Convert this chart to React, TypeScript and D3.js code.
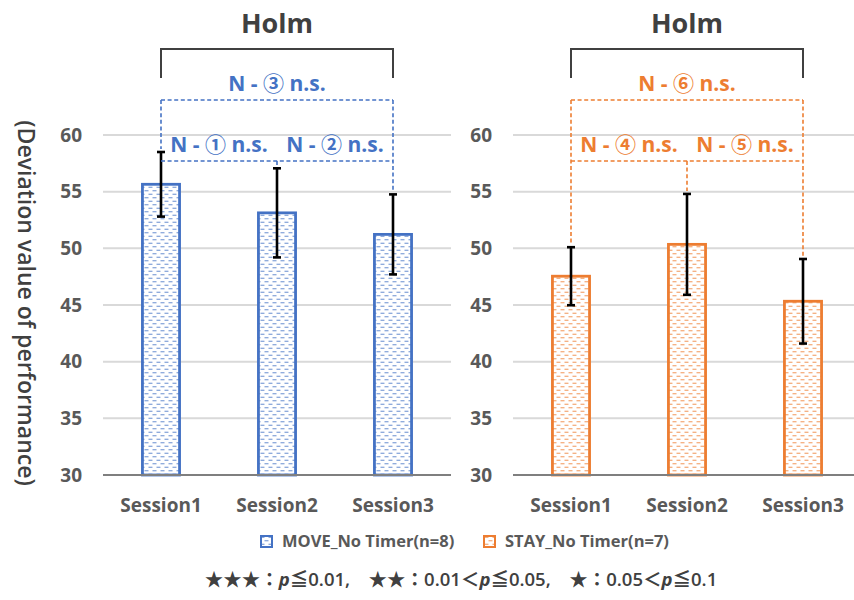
import React from "react";
import * as d3 from "d3";

const sessions = ["Session1", "Session2", "Session3"];
const moveMeans = [55.65, 53.13, 51.23];
const moveErr = [2.85, 3.93, 3.53];
const stayMeans = [47.54, 50.35, 45.33];
const stayErr = [2.56, 4.45, 3.73];
const yTicks = [30, 35, 40, 45, 50, 55, 60];
const legendLabels = ["MOVE_No Timer(n=8)", "STAY_No Timer(n=7)"];
const moveNotes = ["N - ① n.s.", "N - ② n.s.", "N - ③ n.s."];
const stayNotes = ["N - ④ n.s.", "N - ⑤ n.s.", "N - ⑥ n.s."];
const titleText = "Holm";
const yTitle = "(Deviation value of performance)";

const BLUE = "#4472C4";
const ORANGE = "#ED7D31";
const FONT = "'Open Sans', 'Noto Sans CJK JP', sans-serif";

const y = d3.scaleLinear().domain([30, 60]).range([475, 135]);

type PanelProps = {
  x0: number;
  x1: number;
  means: number[];
  errs: number[];
  color: string;
  patId: string;
  notes: string[];
  labelX: number;
};

function Panel({ x0, x1, means, errs, color, patId, notes, labelX }: PanelProps) {
  const x = d3.scaleBand().domain(sessions).range([x0, x1]).padding(0);
  const bw = x.bandwidth();
  const barW = bw * 0.32;
  const cx = (s: string) => (x(s) as number) + bw / 2;
  const c1 = cx(sessions[0]);
  const c2 = cx(sessions[1]);
  const c3 = cx(sessions[2]);
  const topY = (i: number) => y(means[i] + errs[i]);
  const dash = "4,2.6";
  return (
    <g>
      {yTicks.map((t) => (
        <g key={t}>
          {t !== 30 && (
            <line x1={x0} x2={x1} y1={y(t)} y2={y(t)} stroke="#d9d9d9" strokeWidth={2} />
          )}
          <text
            x={labelX}
            y={y(t)}
            dy="0.35em"
            textAnchor="end"
            fontFamily={FONT}
            fontWeight={700}
            fontSize={19}
            fill="#595959"
          >
            {t}
          </text>
        </g>
      ))}
      {sessions.map((s, i) => (
        <rect
          key={s}
          x={cx(s) - barW / 2}
          y={y(means[i])}
          width={barW}
          height={y(30) - y(means[i])}
          fill={`url(#${patId})`}
          stroke={color}
          strokeWidth={2.8}
        />
      ))}
      <line x1={x0} x2={x1} y1={y(30)} y2={y(30)} stroke="#7f7f7f" strokeWidth={2} />
      {sessions.map((s, i) => (
        <g key={s} stroke="#000" strokeWidth={2.6}>
          <line x1={cx(s)} x2={cx(s)} y1={y(means[i] + errs[i])} y2={y(means[i] - errs[i])} />
          <line x1={cx(s) - 4} x2={cx(s) + 4} y1={y(means[i] + errs[i])} y2={y(means[i] + errs[i])} />
          <line x1={cx(s) - 4} x2={cx(s) + 4} y1={y(means[i] - errs[i])} y2={y(means[i] - errs[i])} />
        </g>
      ))}
      {sessions.map((s) => (
        <text
          key={s}
          x={cx(s)}
          y={512}
          textAnchor="middle"
          fontFamily={FONT}
          fontWeight={700}
          fontSize={19}
          fill="#595959"
        >
          {s}
        </text>
      ))}
      <text
        x={c2}
        y={33}
        textAnchor="middle"
        fontFamily={FONT}
        fontWeight={700}
        fontSize={27}
        fill="#404040"
      >
        {titleText}
      </text>
      <path
        d={`M${c1},78 V49 H${c3} V78`}
        fill="none"
        stroke="#404040"
        strokeWidth={2}
      />
      <g stroke={color} strokeWidth={1.6} strokeDasharray={dash} fill="none">
        <line x1={c1} x2={c3} y1={100} y2={100} />
        <line x1={c1} x2={c3} y1={161} y2={161} />
        <line x1={c1} x2={c1} y1={100} y2={topY(0) - 3} />
        <line x1={c3} x2={c3} y1={100} y2={topY(2) - 3} />
        <line x1={c2} x2={c2} y1={161} y2={topY(1) - 3} />
      </g>
      <text x={(c1 + c2) / 2} y={152} textAnchor="middle" fontFamily={FONT} fontWeight={700} fontSize={21} fill={color}>
        {notes[0]}
      </text>
      <text x={(c2 + c3) / 2} y={152} textAnchor="middle" fontFamily={FONT} fontWeight={700} fontSize={21} fill={color}>
        {notes[1]}
      </text>
      <text x={c2} y={91} textAnchor="middle" fontFamily={FONT} fontWeight={700} fontSize={21} fill={color}>
        {notes[2]}
      </text>
    </g>
  );
}

function Pattern({ id, color }: { id: string; color: string }) {
  return (
    <pattern id={id} width={8} height={7} patternUnits="userSpaceOnUse">
      <rect width={8} height={7} fill="#fff" />
      <line x1={0.5} x2={4.5} y1={1.75} y2={1.75} stroke={color} strokeOpacity={0.75} strokeWidth={1.1} />
      <line x1={4.5} x2={8} y1={5.25} y2={5.25} stroke={color} strokeOpacity={0.75} strokeWidth={1.1} />
      <line x1={0} x2={0.5} y1={5.25} y2={5.25} stroke={color} strokeOpacity={0.75} strokeWidth={1.1} />
    </pattern>
  );
}

export default function App() {
  return (
    <svg
      width={854}
      height={600}
      style={{ position: "absolute", left: 0, top: 0, background: "#fff" }}
    >
      <defs>
        <Pattern id="patBlue" color={BLUE} />
        <Pattern id="patOrange" color={ORANGE} />
      </defs>
      <rect width={854} height={600} fill="#fff" />
      <text
        transform="translate(18,303) rotate(90)"
        textAnchor="middle"
        fontFamily={FONT}
        fontWeight={600}
        fontSize={23}
        fill="#404040"
      >
        {yTitle}
      </text>
      <Panel
        x0={103}
        x1={451}
        means={moveMeans}
        errs={moveErr}
        color={BLUE}
        patId="patBlue"
        notes={moveNotes}
        labelX={82}
      />
      <Panel
        x0={513}
        x1={861}
        means={stayMeans}
        errs={stayErr}
        color={ORANGE}
        patId="patOrange"
        notes={stayNotes}
        labelX={492}
      />
      <rect x={261} y={536} width={11} height={11} fill="url(#patBlue)" stroke={BLUE} strokeWidth={2} />
      <text x={282} y={547} fontFamily={FONT} fontWeight={700} fontSize={16.5} fill="#595959">
        {legendLabels[0]}
      </text>
      <rect x={484} y={536} width={11} height={11} fill="url(#patOrange)" stroke={ORANGE} strokeWidth={2} />
      <text x={505} y={547} fontFamily={FONT} fontWeight={700} fontSize={16.5} fill="#595959">
        {legendLabels[1]}
      </text>
      <text x={461} y={586} textAnchor="middle" fontFamily={FONT} fontWeight={600} fontSize={18.5} fill="#404040">
        <tspan>★★★：</tspan>
        <tspan fontStyle="italic" fontWeight={700}>p</tspan>
        <tspan>≦0.01,　★★：0.01＜</tspan>
        <tspan fontStyle="italic" fontWeight={700}>p</tspan>
        <tspan>≦0.05,　★：0.05＜</tspan>
        <tspan fontStyle="italic" fontWeight={700}>p</tspan>
        <tspan>≦0.1</tspan>
      </text>
    </svg>
  );
}
